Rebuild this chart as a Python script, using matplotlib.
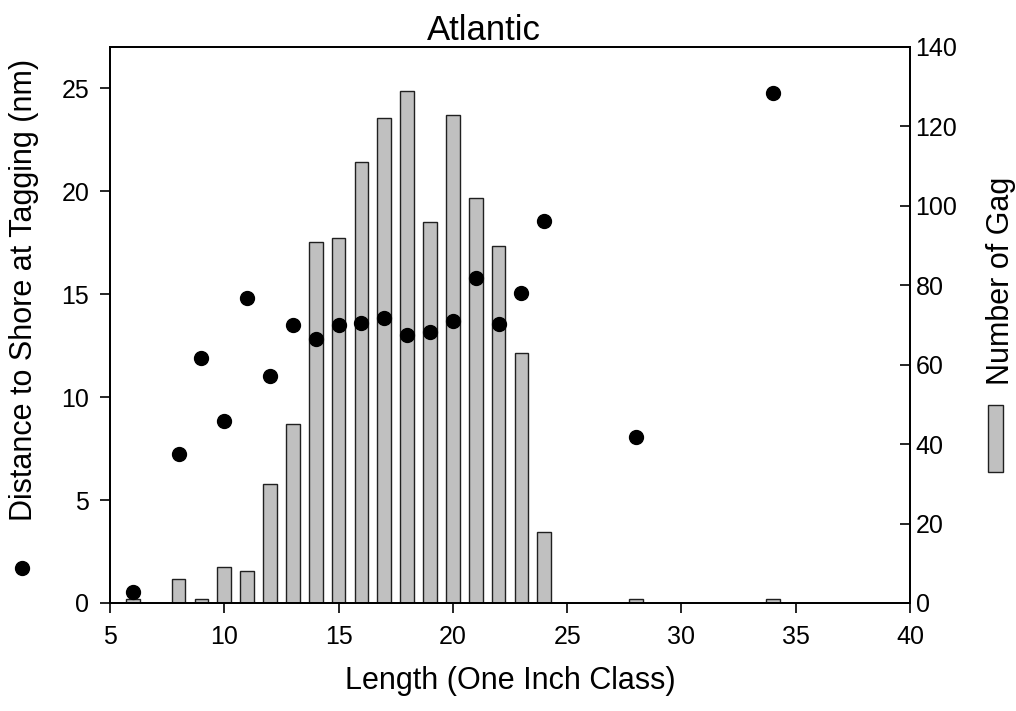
import matplotlib
matplotlib.use("Agg")
import matplotlib.pyplot as plt
from matplotlib.lines import Line2D
from matplotlib.patches import Rectangle

plt.rcParams["font.family"] = ["Liberation Sans", "DejaVu Sans"]

# 1인치 길이 계급별 값
length_class = [6, 8, 9, 10, 11, 12, 13, 14, 15, 16, 17, 18, 19, 20, 21, 22, 23, 24, 28, 34]
n_gag = [1, 6, 1, 9, 8, 30, 45, 91, 92, 111, 122, 129, 96, 123, 102, 90, 63, 18, 1, 1]
dist_nm = [0.55, 7.23, 11.9, 8.83, 14.8, 11.0, 13.51, 12.82, 13.5, 13.6, 13.86, 13.02,
           13.17, 13.67, 15.78, 13.57, 15.05, 18.57, 8.07, 24.77]

x_ticks = [5, 10, 15, 20, 25, 30, 35, 40]
left_ticks = [0, 5, 10, 15, 20, 25]
right_ticks = [0, 20, 40, 60, 80, 100, 120, 140]

BAR_C = "#c0c0c0"
EDGE_C = "#202020"
TICK_FS = 18
LABEL_FS = 22

fig = plt.figure(figsize=(10.16, 7.11), dpi=100, facecolor="white")
ax = fig.add_axes([0.1083, 0.1519, 0.7874, 0.782])
ax2 = ax.twinx()

# 막대 = 오른쪽 축(개체 수), 점 = 왼쪽 축(거리) — 점이 위로 오도록 순서 조정
ax2.bar(length_class, n_gag, width=0.6, color=BAR_C, edgecolor=EDGE_C, linewidth=1.0)
ax.plot(length_class, dist_nm, "o", color="black", markersize=10, linestyle="none")
ax.set_zorder(ax2.get_zorder() + 1)
ax.patch.set_visible(False)

ax.set_xlim(5, 40)
ax.set_ylim(0, 27)
ax2.set_ylim(0, 140)
ax.set_xticks(x_ticks)
ax.set_yticks(left_ticks)
ax2.set_yticks(right_ticks)

ax.tick_params(axis="x", direction="out", length=7, width=1.2, labelsize=TICK_FS, pad=9)
ax.tick_params(axis="y", direction="out", length=7, width=1.2, labelsize=TICK_FS, pad=8)
ax2.tick_params(axis="y", direction="in", length=7, width=1.2, labelsize=TICK_FS, pad=4)
for a in (ax, ax2):
    for s in a.spines.values():
        s.set_linewidth(1.3)

ax.set_title("Atlantic", fontsize=25, pad=4, x=0.467)
ax.set_xlabel("Length (One Inch Class)", fontsize=LABEL_FS, labelpad=12)

# 축 제목 + 범례 기호 (축 제목 옆에 배치)
fig.text(0.0236, 0.592, "Distance to Shore at Tagging (nm)", rotation=90,
         ha="center", va="center", fontsize=LABEL_FS)
fig.add_artist(Line2D([0.0217], [1 - 568 / 711], marker="o", color="black",
                      markersize=10, linestyle="none", transform=fig.transFigure))
fig.text(0.985, 0.605, "Number of Gag", rotation=90, ha="center", va="center",
         fontsize=LABEL_FS)
fig.add_artist(Rectangle((988 / 1016, 1 - 472 / 711), 15 / 1016, 67 / 711,
                         transform=fig.transFigure, facecolor=BAR_C,
                         edgecolor=EDGE_C, linewidth=1.0))

fig.savefig("out.png", dpi=100, facecolor="white")
